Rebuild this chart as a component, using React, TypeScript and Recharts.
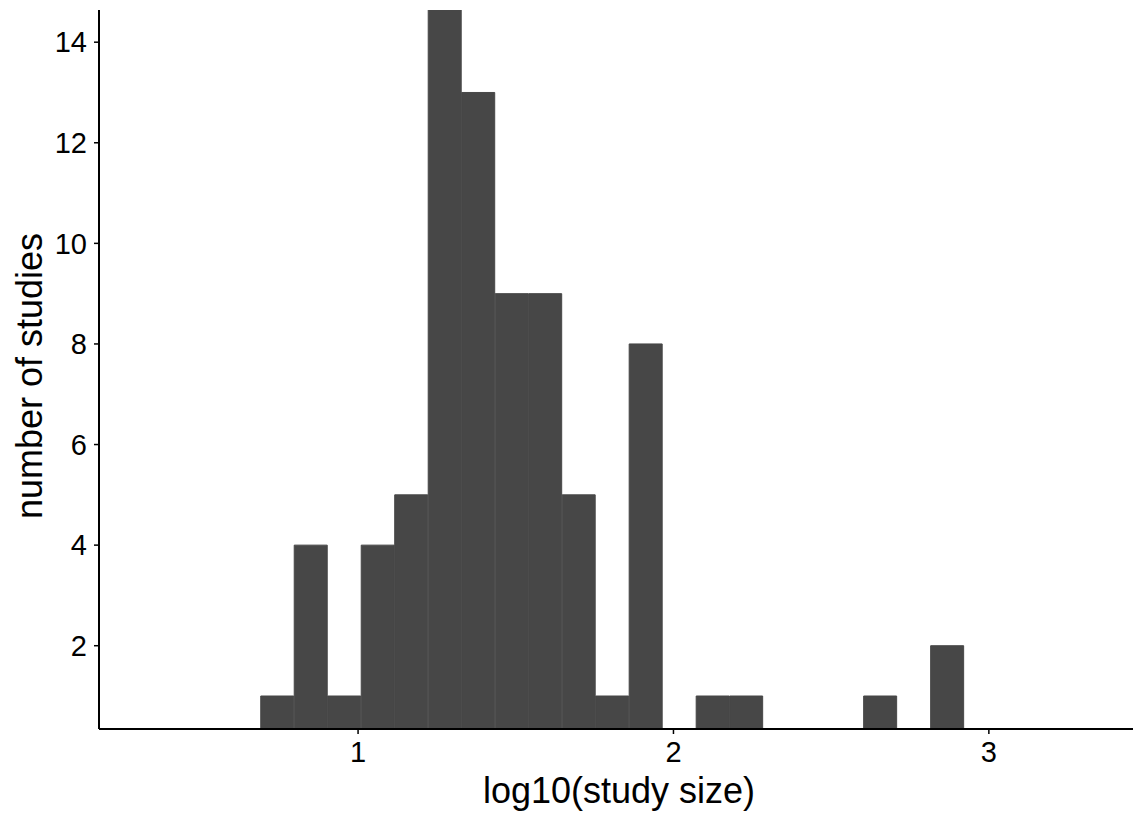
import React from 'react';
import { BarChart, Bar, XAxis, YAxis } from 'recharts';

// histogram bins: centre of each bin on the log10 scale, and the count in it
const binCenters = [
  0.7445, 0.8507, 0.9569, 1.0631, 1.1693, 1.2755, 1.3817, 1.4879, 1.5941, 1.7003, 1.8065,
  1.9127, 2.0189, 2.1251, 2.2313, 2.3375, 2.4437, 2.5499, 2.6561, 2.7623, 2.8685,
];
const counts = [1, 4, 1, 4, 5, 15, 13, 9, 9, 5, 1, 8, 0, 1, 1, 0, 0, 0, 1, 0, 2];

const xTicks = [1, 2, 3];
const yTicks = [2, 4, 6, 8, 10, 12, 14];

const data = binCenters.map((x, i) => ({ x, count: counts[i] }));

const FONT = '"Liberation Sans", Arial, sans-serif';
const tickStyle = { fontSize: 29, fill: '#000', fontFamily: FONT };

const XTitle = () => (
  <text x={619} y={803} textAnchor="middle" fontSize={36} fontFamily={FONT} fill="#000">
    log10(study size)
  </text>
);

const YTitle = () => (
  <text
    x={42}
    y={376}
    transform="rotate(-90 42 376)"
    textAnchor="middle"
    fontSize={36}
    fontFamily={FONT}
    fill="#000"
  >
    number of studies
  </text>
);

const App: React.FC = () => {
  return (
    <div style={{ position: 'absolute', left: 0, top: 0, background: '#fff', fontFamily: FONT }}>
      <BarChart
        width={1133}
        height={815}
        data={data}
        margin={{ top: 10, right: 0, left: 0, bottom: 0 }}
        barCategoryGap={0}
        barGap={0}
      >
        <XAxis
          dataKey="x"
          type="number"
          domain={[0.1786, 3.457]}
          allowDataOverflow
          ticks={xTicks}
          height={86}
          tick={tickStyle}
          tickSize={5}
          tickMargin={7}
          axisLine={{ stroke: '#000', strokeWidth: 2 }}
          tickLine={{ stroke: '#000', strokeWidth: 1.5 }}
          label={{ content: () => <XTitle /> }}
        />
        <YAxis
          type="number"
          domain={[0.344, 14.64]}
          allowDataOverflow
          ticks={yTicks}
          width={99}
          tick={tickStyle}
          tickSize={5}
          tickMargin={7}
          axisLine={{ stroke: '#000', strokeWidth: 2 }}
          tickLine={{ stroke: '#000', strokeWidth: 1.5 }}
          label={{ content: () => <YTitle /> }}
        />
        <Bar
          dataKey="count"
          fill="#474747"
          stroke="#474747"
          strokeWidth={1}
          isAnimationActive={false}
        />
      </BarChart>
    </div>
  );
};

export default App;
